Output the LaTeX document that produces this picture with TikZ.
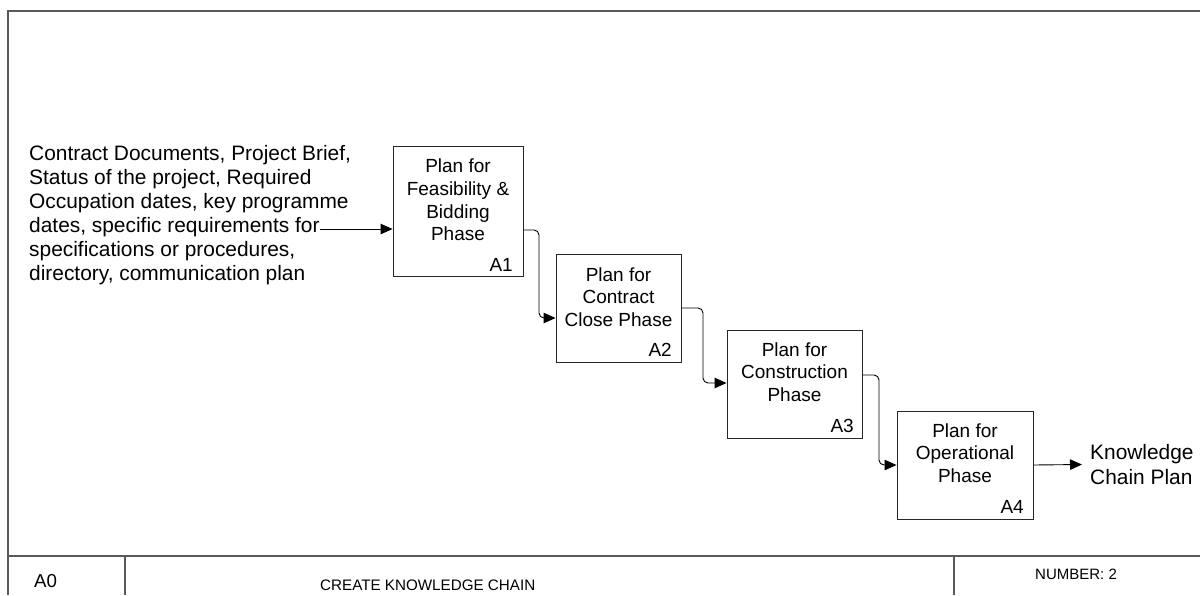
\documentclass[tikz,border=0pt]{standalone}
\usepackage{fontspec}
\setmainfont{Liberation Sans}
\usetikzlibrary{arrows.meta}
\begin{document}
\begin{tikzpicture}[x=1pt,y=-1pt,
  frameline/.style={draw=black!65, line width=1.4pt},
  actbox/.style={draw=black!85, line width=0.9pt, inner sep=0pt, fill=white},
  acttext/.style={align=center, inner sep=0pt, font=\fontsize{19}{22.7}\selectfont},
  actnum/.style={anchor=east, inner sep=0pt, font=\fontsize{19}{22}\selectfont},
  flow/.style={draw=black, line width=0.9pt, rounded corners=5pt,
    -{Triangle[length=12pt,width=10.5pt]}},
  foot/.style={inner sep=0pt, anchor=west}]
\useasboundingbox (0,0) rectangle (1200,595);

% page frame and title block
\draw[frameline] (8,595) -- (8,11) -- (1200,11);
\draw[frameline] (8,556) -- (1200,556);
\draw[frameline] (125,556) -- (125,595);
\draw[frameline] (954,556) -- (954,595);
\node[inner sep=0pt] (nodeid) at (45.5,581) {\fontsize{18.7}{20}\selectfont A0};
\node[foot] (title) at (320,585) {\fontsize{15.2}{17}\selectfont CREATE KNOWLEDGE CHAIN};
\node[foot] (number) at (1035,574) {\fontsize{15}{17}\selectfont NUMBER: 2};

% activity boxes
\node[actbox, minimum width=130pt, minimum height=130pt] (a1) at (458,211) {};
\node[actbox, minimum width=125pt, minimum height=108pt] (a2) at (618.5,308) {};
\node[actbox, minimum width=135pt, minimum height=108pt] (a3) at (794.5,384) {};
\node[actbox, minimum width=136pt, minimum height=108pt] (a4) at (965,465) {};

\node[acttext] (a1t) at (458,200) {Plan for\\Feasibility \&\\Bidding\\Phase};
\node[acttext] (a2t) at (618.5,297) {Plan for\\Contract\\Close Phase};
\node[acttext] (a3t) at (794.5,372) {Plan for\\Construction\\Phase};
\node[acttext] (a4t) at (965,453) {Plan for\\Operational\\Phase};

\node[actnum] (a1n) at (513,265) {A1};
\node[actnum] (a2n) at (672,350) {A2};
\node[actnum] (a3n) at (854,426) {A3};
\node[actnum] (a4n) at (1024,507) {A4};

% input and output
\node[inner sep=0pt, anchor=west, align=left,
  font=\fontsize{20.9}{23.9}\selectfont] (inputs) at (29,215)
  {Contract Documents, Project Brief,\\
   Status of the project, Required\\
   Occupation dates, key programme\\
   dates, specific requirements for\\
   specifications or procedures,\\
   directory, communication plan};
\coordinate (inend) at (320,229);
\node[inner sep=0pt, anchor=west, align=left,
  font=\fontsize{20.9}{25}\selectfont] (output) at (1090,464.5)
  {Knowledge\\Chain Plan};

% connectors
\draw[flow] (inend) -- (inend -| a1.west);
\draw[flow] (a1.east |- 0,230) -- (539,230) -- (539,318) -- (a2.west |- 0,318);
\draw[flow] (a2.east) -- (703,308) -- (703,383) -- (a3.west |- 0,383);
\draw[flow] (a3.east |- 0,375) -- (879,375) -- (879,465) -- (a4.west);
\draw[flow] (a4.east) -- ([xshift=-8pt]output.west);
\end{tikzpicture}
\end{document}
